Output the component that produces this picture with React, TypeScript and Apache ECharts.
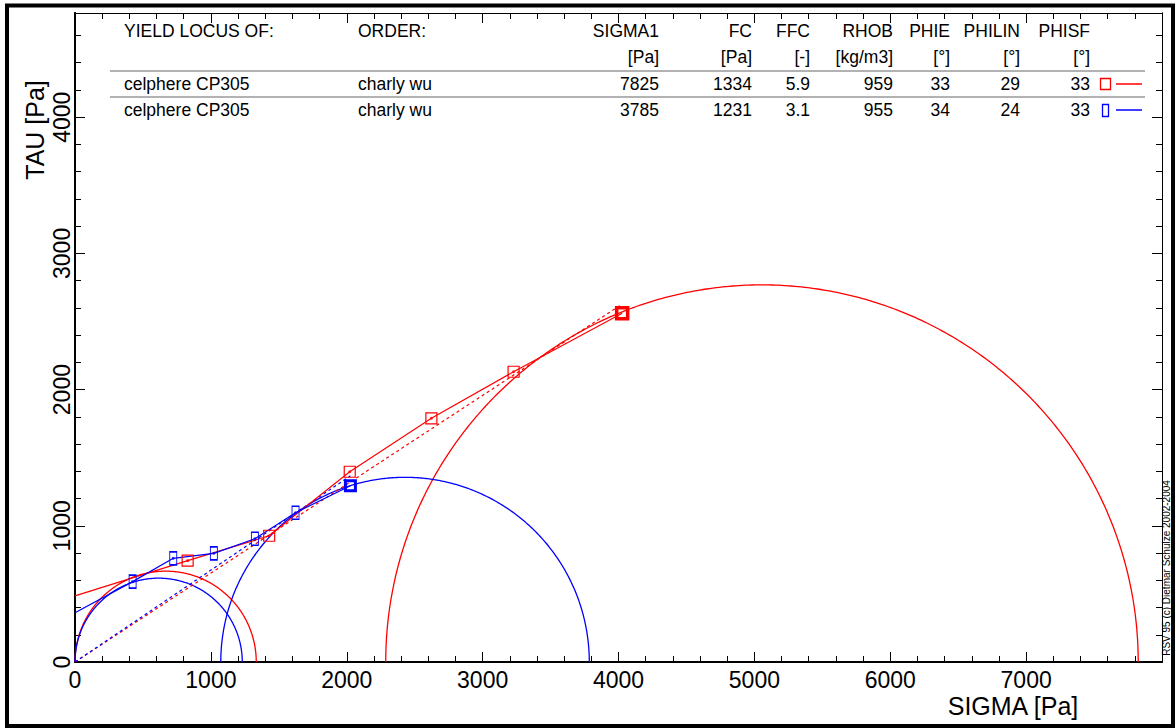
import React, { useEffect, useRef } from "react";
import * as echarts from "echarts";

const FONT = '"Liberation Sans", Arial, Helvetica, sans-serif';
const RED = "#ff0000";
const BLUE = "#0000ff";

// ---- data (sigma [Pa], tau [Pa]) ----
const redShearPoints = [[829, 744], [1429, 927], [2022, 1397], [2623, 1789], [3228, 2131]];
const redPreshear = [[4027, 2560]];
const redYieldLocus = [[0, 485], [829, 744], [1429, 927], [2022, 1397], [2623, 1789], [3228, 2131], [4027, 2560]];
const redEffectiveLocus = [[0, 0], [4015, 2620]];
const redMohrCircles = [[0, 1334], [2287, 7825]];

const blueShearPoints = [[424, 590], [723, 761], [1022, 798], [1324, 905], [1623, 1096]];
const bluePreshear = [[2027, 1294]];
const blueYieldLocus = [[0, 362], [424, 590], [723, 761], [1022, 798], [1324, 905], [1623, 1096], [2027, 1294]];
const blueEffectiveLocus = [[0, 0], [2027, 1367]];
const blueMohrCircles = [[0, 1231], [1073, 3785]];

const sigmaTickLabels = [0, 1000, 2000, 3000, 4000, 5000, 6000, 7000];
const tauTickLabels = [0, 1000, 2000, 3000, 4000];

// ---- table ----
const tableHeads = ["YIELD LOCUS OF:", "ORDER:", "SIGMA1", "FC", "FFC", "RHOB", "PHIE", "PHILIN", "PHISF"];
const tableUnits = ["", "", "[Pa]", "[Pa]", "[-]", "[kg/m3]", "[°]", "[°]", "[°]"];
const tableRowRed = ["celphere CP305", "charly wu", "7825", "1334", "5.9", "959", "33", "29", "33"];
const tableRowBlue = ["celphere CP305", "charly wu", "3785", "1231", "3.1", "955", "34", "24", "33"];

const colX = [124, 358, 659, 752, 810, 893, 950, 1020, 1090];
const colAlign = ["left", "left", "right", "right", "right", "right", "right", "right", "right"];
const rowY = [31, 57, 84, 110];

function circleSeries(name: string, data: number[][], color: string) {
  return {
    name,
    type: "custom",
    xAxisIndex: 0,
    yAxisIndex: 0,
    data,
    z: 2,
    renderItem: (_params: any, api: any) => {
      const a = api.value(0);
      const b = api.value(1);
      const c = (a + b) / 2;
      const r = (b - a) / 2;
      const pts: number[][] = [];
      for (let i = 0; i <= 360; i++) {
        const t = (Math.PI * i) / 360;
        pts.push(api.coord([c + r * Math.cos(t), r * Math.sin(t)]));
      }
      return {
        type: "polyline",
        shape: { points: pts },
        style: { stroke: color, fill: "none", lineWidth: 1.3 },
      };
    },
  };
}

function lineSeries(data: number[][], color: string, dotted: boolean) {
  return {
    type: "line",
    xAxisIndex: 0,
    yAxisIndex: 0,
    data,
    symbol: "none",
    z: 3,
    lineStyle: { color, width: 1.2, type: dotted ? [3, 3] : "solid" },
  };
}

function markerSeries(data: number[][], color: string, size: number[], bw: number) {
  return {
    type: "scatter",
    xAxisIndex: 0,
    yAxisIndex: 0,
    data,
    symbol: "rect",
    symbolSize: size,
    z: 4,
    itemStyle: { color: "rgba(0,0,0,0)", borderColor: color, borderWidth: bw, opacity: 1 },
  };
}

function dotSeries(data: number[][], color: string) {
  return {
    type: "scatter",
    xAxisIndex: 0,
    yAxisIndex: 0,
    data,
    symbol: "circle",
    symbolSize: 3,
    z: 5,
    itemStyle: { color },
  };
}

function xAxis(pos: string, interval: number, len: number, labels: boolean, lw: number) {
  return {
    type: "value",
    position: pos,
    min: 0,
    max: 8000,
    interval,
    axisLine: { show: true, onZero: false, lineStyle: { color: "#000", width: lw } },
    axisTick: { show: true, inside: true, length: len, lineStyle: { color: "#000", width: 1 } },
    axisLabel: labels
      ? {
          show: true,
          color: "#000",
          fontFamily: FONT,
          fontSize: 23,
          margin: 6,
          formatter: (v: number) => (sigmaTickLabels.includes(v) ? String(v) : ""),
        }
      : { show: false },
    splitLine: { show: false },
  };
}

function yAxis(pos: string, interval: number, len: number, labels: boolean, lw: number) {
  return {
    type: "value",
    position: pos,
    min: 0,
    max: 4765,
    interval,
    axisLine: { show: true, onZero: false, lineStyle: { color: "#000", width: lw } },
    axisTick: { show: true, inside: true, length: len, lineStyle: { color: "#000", width: 1 } },
    axisLabel: labels
      ? {
          show: true,
          color: "#000",
          fontFamily: FONT,
          fontSize: 23,
          rotate: 90,
          margin: 2,
          formatter: (v: number) => (tauTickLabels.includes(v) ? String(v) : ""),
        }
      : { show: false },
    splitLine: { show: false },
  };
}

function tableGraphics() {
  const els: any[] = [];
  const rows = [tableHeads, tableUnits, tableRowRed, tableRowBlue];
  rows.forEach((row, ri) => {
    row.forEach((txt, ci) => {
      if (!txt) return;
      els.push({
        type: "text",
        x: colX[ci],
        y: rowY[ri],
        style: {
          text: txt,
          fill: "#000",
          font: `17.5px ${FONT}`,
          align: colAlign[ci],
          verticalAlign: "middle",
        },
      });
    });
  });
  [71, 97].forEach((y) => {
    els.push({
      type: "line",
      shape: { x1: 110, y1: y, x2: 1145, y2: y },
      style: { stroke: "#999999", lineWidth: 1.5 },
    });
  });
  // legend keys
  els.push({ type: "rect", shape: { x: 1100.5, y: 78.5, width: 10, height: 11 }, style: { stroke: RED, fill: "none", lineWidth: 1.3 } });
  els.push({ type: "line", shape: { x1: 1116, y1: 84, x2: 1142, y2: 84 }, style: { stroke: RED, lineWidth: 1.5 } });
  els.push({ type: "rect", shape: { x: 1102.5, y: 104.5, width: 6, height: 12 }, style: { stroke: BLUE, fill: "none", lineWidth: 1.3 } });
  els.push({ type: "line", shape: { x1: 1116, y1: 110, x2: 1142, y2: 110 }, style: { stroke: BLUE, lineWidth: 1.5 } });
  return els;
}

export default function App() {
  const ref = useRef<HTMLDivElement>(null);
  useEffect(() => {
    document.body.style.margin = "0";
    if (!ref.current) return;
    const chart = echarts.init(ref.current, null, { renderer: "svg" });
    chart.setOption({
      animation: false,
      backgroundColor: "#ffffff",
      grid: { left: 75, right: 13, top: 13, bottom: 66, containLabel: false },
      xAxis: [
        xAxis("bottom", 200, 6, true, 2),
        xAxis("bottom", 1000, 10, false, 2),
        xAxis("top", 200, 6, false, 1),
        xAxis("top", 1000, 10, false, 1),
      ],
      yAxis: [
        yAxis("left", 200, 6, true, 2),
        yAxis("left", 1000, 10, false, 2),
        yAxis("right", 200, 6, false, 1),
        yAxis("right", 1000, 10, false, 1),
      ],
      series: [
        circleSeries("red circles", redMohrCircles, RED),
        circleSeries("blue circles", blueMohrCircles, BLUE),
        lineSeries(redEffectiveLocus, RED, true),
        lineSeries(blueEffectiveLocus, BLUE, true),
        lineSeries(redYieldLocus, RED, false),
        lineSeries(blueYieldLocus, BLUE, false),
        markerSeries(redShearPoints, RED, [11, 11], 1.2),
        markerSeries(blueShearPoints, BLUE, [7, 13], 1.2),
        markerSeries(redPreshear, RED, [11, 11], 3.5),
        markerSeries(bluePreshear, BLUE, [10, 10], 3),
        dotSeries(redShearPoints, RED),
        dotSeries(blueShearPoints, BLUE),
      ],
      graphic: [
        {
          type: "rect",
          shape: { x: 7, y: 5.5, width: 1166, height: 720.5 },
          style: { stroke: "#000", fill: "none", lineWidth: 4 },
          z: 10,
        },
        {
          type: "text",
          x: 1013,
          y: 706,
          style: { text: "SIGMA [Pa]", fill: "#000", font: `25px ${FONT}`, align: "center", verticalAlign: "middle" },
        },
        {
          type: "text",
          x: 35,
          y: 130,
          rotation: Math.PI / 2,
          style: { text: "TAU [Pa]", fill: "#000", font: `25px ${FONT}`, align: "center", verticalAlign: "middle" },
        },
        {
          type: "text",
          x: 1166,
          y: 568,
          rotation: Math.PI / 2,
          style: {
            text: "RSV 95 (c) Dietmar Schulze 2002-2004",
            fill: "#000",
            font: `10px ${FONT}`,
            align: "center",
            verticalAlign: "middle",
          },
        },
        ...tableGraphics(),
      ],
    });
    return () => chart.dispose();
  }, []);
  return <div ref={ref} style={{ width: 1175, height: 728 }} />;
}
